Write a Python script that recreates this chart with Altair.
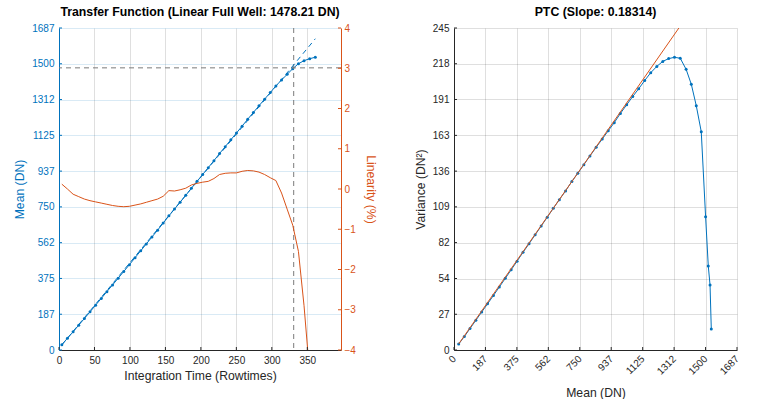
import altair as alt
import numpy as np
import pandas as pd

# ---- measured data (one entry per integration time) ----
time_rowtimes = [4.0, 11.9, 19.9, 27.8, 35.8, 43.7, 51.6, 59.6, 67.5, 75.5,
                 83.4, 91.3, 99.3, 107.2, 115.2, 123.1, 131.0, 139.0, 146.9, 154.9,
                 162.8, 170.7, 178.7, 186.6, 194.6, 202.5, 210.4, 218.4, 226.3, 234.3,
                 242.2, 250.1, 258.1, 266.0, 274.0, 281.9, 289.8, 297.8, 305.7, 313.7,
                 321.6, 329.5, 337.5, 345.4, 353.4, 361.3]
mean_dn = [27.8, 61.6, 95.2, 130.3, 165.0, 199.9, 235.1, 270.1, 305.7, 340.8,
           376.0, 411.5, 447.1, 483.6, 519.6, 555.7, 591.9, 628.0, 665.0, 702.7,
           738.1, 774.1, 810.2, 847.4, 883.6, 919.5, 955.4, 991.9, 1029.4, 1065.5,
           1101.1, 1136.7, 1172.8, 1209.1, 1244.6, 1279.6, 1314.3, 1348.6, 1383.6, 1414.6,
           1444.2, 1473.9, 1499.8, 1515.8, 1526.3, 1533.7]
variance_dn2 = [4.5, 10.2, 16.3, 22.6, 28.9, 35.1, 41.5, 47.9, 54.5, 61.0,
                67.6, 74.3, 80.8, 87.6, 94.3, 101.0, 107.8, 114.4, 121.0, 128.3,
                134.5, 141.0, 147.6, 154.2, 160.5, 166.8, 173.0, 180.0, 186.6, 192.9,
                198.8, 205.0, 211.0, 215.8, 219.6, 221.7, 222.7, 222.0, 213.6, 202.2,
                185.9, 166.1, 101.4, 64.0, 49.5, 16.0]
linearity_pct = [0.12, 0.0, -0.13, -0.19, -0.25, -0.29, -0.32, -0.35, -0.38, -0.41,
                 -0.43, -0.44, -0.43, -0.40, -0.37, -0.33, -0.29, -0.25, -0.18, -0.04,
                 -0.05, -0.02, 0.02, 0.10, 0.14, 0.17, 0.19, 0.26, 0.36, 0.39,
                 0.40, 0.40, 0.44, 0.46, 0.45, 0.42, 0.36, 0.28, 0.21, -0.10,
                 -0.50, -0.90, -1.55, -2.90, -4.60, -6.50]

# ---- fit results ----
full_well_dn = 1478.21
ptc_slope = 0.18314
ptc_offset = -0.5
tf_gain = 4.49      # DN per rowtime
tf_offset = 8.5     # DN

# ---- axis ticks and limits ----
time_ticks = [0, 50, 100, 150, 200, 250, 300, 350]
time_max = 397.5
mean_ticks = [0, 187.4, 374.9, 562.3, 749.8, 937.2, 1124.7, 1312.1, 1499.6, 1687]
mean_max = 1687
lin_ticks = [-4, -3, -2, -1, 0, 1, 2, 3, 4]
var_ticks = [0, 27.2, 54.4, 81.7, 108.9, 136.1, 163.3, 190.6, 217.8, 245]
var_max = 245

BLUE = "#0072BD"
ORANGE = "#D95319"
DARK = "#262626"
REF = "#7a7a7a"
FONT = "Liberation Sans"
TITLE_SIZE = 12.3
AXIS_TITLE_SIZE = 12.2

W1, W2, H = 282, 283, 322
TICK = 3

df = pd.DataFrame({"t": time_rowtimes, "mean": mean_dn,
                   "var": variance_dn2, "lin": linearity_pct})

t_fw = float(np.interp(full_well_dn, mean_dn, time_rowtimes))
fit_tf = pd.DataFrame({"t": [time_rowtimes[0], time_rowtimes[-1]]})
fit_tf["mean"] = tf_gain * fit_tf["t"] + tf_offset
fw_h = pd.DataFrame({"mean": [full_well_dn]})
fw_v = pd.DataFrame({"t": [t_fw]})

xs = alt.Scale(domain=[0, time_max], nice=False, zero=False)
ys_mean = alt.Scale(domain=[0, mean_max], nice=False, zero=False)
ys_lin = alt.Scale(domain=[-4, 4], nice=False, zero=False)

common_axis = dict(labelFont=FONT, titleFont=FONT, labelFontSize=10,
                   titleFontSize=AXIS_TITLE_SIZE, titleFontWeight="normal",
                   ticks=False, labelFlush=False, labelOverlap=False, domainWidth=1)

x_axis_tf = alt.Axis(values=time_ticks, title="Integration Time (Rowtimes)",
                     grid=True, gridColor=DARK, gridOpacity=0.15,
                     domainColor=DARK, labelColor=DARK, titleColor=DARK,
                     labelPadding=5, titlePadding=4, **common_axis)
y_axis_mean = alt.Axis(values=mean_ticks, title="Mean (DN)", orient="left",
                       labelExpr="format(datum.value, '.0f')",
                       grid=True, gridColor=BLUE, gridOpacity=0.15,
                       domainColor=BLUE, labelColor=BLUE, titleColor=BLUE,
                       labelPadding=5, titlePadding=5, **common_axis)
y_axis_lin = alt.Axis(values=lin_ticks, title="Linearity (%)", orient="right",
                      grid=False, domainColor=ORANGE, labelColor=ORANGE,
                      titleColor=ORANGE, labelPadding=3, titlePadding=8,
                      **common_axis)

# shared x encoding for every transfer-function layer
X_T = alt.X("t:Q", scale=xs, axis=x_axis_tf)

# mean signal vs integration time
tf_mean = alt.Chart(df).mark_line(
    color=BLUE, strokeWidth=1,
    point=alt.OverlayMarkDef(color=BLUE, filled=True, size=9)
).encode(
    x=X_T,
    y=alt.Y("mean:Q", scale=ys_mean, axis=y_axis_mean),
)
tf_fit = alt.Chart(fit_tf).mark_line(color=BLUE, strokeWidth=1, strokeDash=[5, 4]).encode(
    x=X_T,
    y=alt.Y("mean:Q", scale=ys_mean, axis=None),
)
tf_fw_h = alt.Chart(fw_h).mark_rule(color=REF, strokeWidth=1, strokeDash=[5, 4]).encode(
    y=alt.Y("mean:Q", scale=ys_mean, axis=None),
)
tf_fw_v = alt.Chart(fw_v).mark_rule(color=REF, strokeWidth=1, strokeDash=[5, 4]).encode(
    x=X_T,
)
tf_lin = alt.Chart(df).mark_line(color=ORANGE, strokeWidth=1, clip=True).encode(
    x=X_T,
    y=alt.Y("lin:Q", scale=ys_lin, axis=y_axis_lin),
)

# inward tick marks
tf_xticks = alt.Chart(pd.DataFrame({"t": time_ticks})).mark_rule(color=DARK, strokeWidth=1).encode(
    x=X_T, y=alt.value(H), y2=alt.value(H - TICK))
tf_lticks = alt.Chart(pd.DataFrame({"mean": mean_ticks})).mark_rule(color=BLUE, strokeWidth=1).encode(
    y=alt.Y("mean:Q", scale=ys_mean, axis=None), x=alt.value(0), x2=alt.value(TICK))
tf_rticks = alt.Chart(pd.DataFrame({"lin": lin_ticks})).mark_rule(color=ORANGE, strokeWidth=1).encode(
    y=alt.Y("lin:Q", scale=ys_lin, axis=None), x=alt.value(W1), x2=alt.value(W1 - TICK))

tf = alt.layer(
    tf_mean, tf_fw_h, tf_fw_v, tf_fit, tf_lin, tf_xticks, tf_lticks, tf_rticks
).resolve_scale(y="independent").properties(
    width=W1, height=H,
    title=alt.TitleParams(f"Transfer Function (Linear Full Well: {full_well_dn:.2f} DN)",
                          font=FONT, fontSize=TITLE_SIZE, fontWeight="bold", color="#000000",
                          offset=5, anchor="middle"),
)

# ---- photon transfer curve ----
px = alt.Scale(domain=[0, mean_max], nice=False, zero=False)
py = alt.Scale(domain=[0, var_max], nice=False, zero=False)

x_axis_ptc = alt.Axis(values=mean_ticks, title="Mean (DN)",
                      labelExpr="format(datum.value, '.0f')",
                      labelAngle=315, labelAlign="right", labelBaseline="middle",
                      grid=True, gridColor=DARK, gridOpacity=0.15,
                      domainColor=DARK, labelColor=DARK, titleColor=DARK,
                      labelPadding=7, titlePadding=10, **common_axis)
y_axis_ptc = alt.Axis(values=var_ticks, title="Variance (DN²)",
                      labelExpr="format(datum.value, '.0f')",
                      grid=True, gridColor=DARK, gridOpacity=0.15,
                      domainColor=DARK, labelColor=DARK, titleColor=DARK,
                      labelPadding=5, titlePadding=5, **common_axis)

X_M = alt.X("mean:Q", scale=px, axis=x_axis_ptc)
Y_V = alt.Y("var:Q", scale=py, axis=y_axis_ptc)

fit_ptc = pd.DataFrame({"mean": [mean_dn[0], mean_dn[-1]]})
fit_ptc["var"] = ptc_slope * fit_ptc["mean"] + ptc_offset

ptc_pts = alt.Chart(df).mark_line(
    color=BLUE, strokeWidth=1,
    point=alt.OverlayMarkDef(color=BLUE, filled=True, size=9)
).encode(x=X_M, y=Y_V, order="t:Q")
ptc_fit = alt.Chart(fit_ptc).mark_line(color=ORANGE, strokeWidth=1, clip=True).encode(
    x=X_M, y=Y_V)
ptc_xticks = alt.Chart(pd.DataFrame({"mean": mean_ticks})).mark_rule(color=DARK, strokeWidth=1).encode(
    x=X_M, y=alt.value(H), y2=alt.value(H - TICK))
ptc_yticks = alt.Chart(pd.DataFrame({"var": var_ticks})).mark_rule(color=DARK, strokeWidth=1).encode(
    y=Y_V, x=alt.value(0), x2=alt.value(TICK))

ptc = alt.layer(ptc_pts, ptc_fit, ptc_xticks, ptc_yticks).properties(
    width=W2, height=H,
    title=alt.TitleParams(f"PTC (Slope: {ptc_slope:.5f})",
                          font=FONT, fontSize=TITLE_SIZE, fontWeight="bold", color="#000000",
                          offset=5, anchor="middle"),
)

chart = alt.hconcat(tf, ptc, spacing=37).properties(
    padding={"left": 13, "top": 5, "right": 0, "bottom": 0},
    background="white",
).configure_view(strokeWidth=0)

chart.save("out.html", embed_options={"renderer": "svg", "actions": False})
